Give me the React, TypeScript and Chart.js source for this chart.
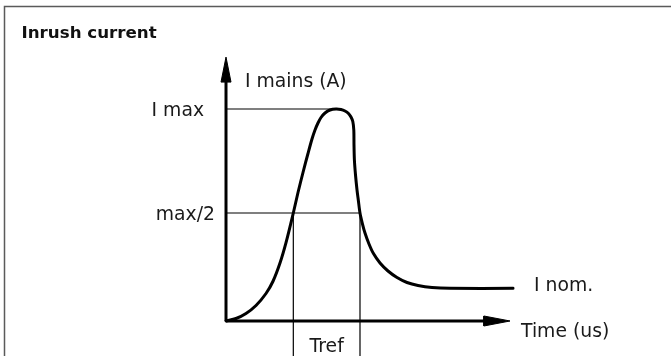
import React, { useEffect, useRef } from "react";
import { Chart, registerables } from "chart.js";

Chart.register(...registerables);

// ---- data (time in arbitrary units, current in % of I max) ----
const curveTime = [
  0, 3.52, 7.04, 10.56, 14.08, 16.55, 19.01, 21.13, 23.7,
  25.35, 27.11, 28.87, 30.28, 31.34, 32.39, 33.45, 34.86, 36.62, 38.73,
  40.49, 41.9, 43.13, 44.01, 44.65, 45.0, 45.07, 45.21, 45.6, 46.13, 46.58, 47.18,
  48.06, 48.94, 50.35, 51.87, 54.23, 57.04, 60.21, 63.73, 67.61, 72.54, 78.87, 101.06,
];
const curveCurrent = [
  0, 1.18, 3.54, 7.31, 12.97, 18.75, 27.33, 36.96, 50.94,
  60.61, 70.05, 79.01, 85.85, 90.09, 93.4, 95.99, 98.11, 99.53, 100,
  99.76, 99.06, 97.88, 96.23, 94.1, 90.09, 83.02, 75.94, 68.87, 61.79, 57.08, 50.94,
  45.75, 41.51, 36.32, 31.93, 27.36, 23.58, 20.52, 18.16, 16.75, 15.8, 15.42, 15.42,
];

const iMax = 100;
const iHalf = 50.94;
const iNom = 15.42;
const tPeak = 39.0;
const tRise = 23.7;
const tFall = 47.18;
const timeAxisEnd = 100;
const currentAxisEnd = 124.5;

const xMin = -79.58;
const xMax = 156.69;
const yMin = -16.51;
const yMax = 151.42;

const titleText = "Inrush current";
const labelTexts = ["I mains (A)", "I max", "max/2", "Tref", "I nom.", "Time (us)"];

export default function App() {
  const ref = useRef<HTMLCanvasElement | null>(null);

  useEffect(() => {
    const canvas = ref.current;
    if (!canvas) return;

    const black = "#000000";
    const thin = 1.2;
    const thick = 3;

    const line = (pts: { x: number; y: number }[], width: number, extra: any = {}) => ({
      data: pts,
      showLine: true,
      borderColor: black,
      backgroundColor: black,
      borderWidth: width,
      pointRadius: 0,
      pointHoverRadius: 0,
      tension: 0,
      ...extra,
    });

    const curve = curveTime.map((t, i) => ({ x: t, y: curveCurrent[i] }));

    const yHeadLen = 11.8;
    const yHeadHalf = 1.76;
    const xHeadLen = 9.2;
    const xHeadHalf = 2.36;

    const datasets: any[] = [
      // guide lines
      line([{ x: 0, y: iMax }, { x: tPeak, y: iMax }], thin),
      line([{ x: 0, y: iHalf }, { x: tFall, y: iHalf }], thin),
      line([{ x: tRise, y: iHalf }, { x: tRise, y: yMin }], thin),
      line([{ x: tFall, y: iHalf }, { x: tFall, y: yMin }], thin),
      // axes
      line([{ x: 0, y: 0 }, { x: 0, y: currentAxisEnd - yHeadLen + 1 }], thick),
      line([{ x: 0, y: 0 }, { x: timeAxisEnd - xHeadLen + 1, y: 0 }], thick),
      // arrowheads
      line(
        [
          { x: 0, y: currentAxisEnd },
          { x: -yHeadHalf, y: currentAxisEnd - yHeadLen },
          { x: yHeadHalf, y: currentAxisEnd - yHeadLen },
          { x: 0, y: currentAxisEnd },
        ],
        1,
        { fill: "shape" }
      ),
      line(
        [
          { x: timeAxisEnd, y: 0 },
          { x: timeAxisEnd - xHeadLen, y: xHeadHalf },
          { x: timeAxisEnd - xHeadLen, y: -xHeadHalf },
          { x: timeAxisEnd, y: 0 },
        ],
        1,
        { fill: "shape" }
      ),
      // inrush curve
      line(curve, thick, { tension: 0.3, borderJoinStyle: "round", borderCapStyle: "round" }),
    ];

    // label anchors in data coordinates, with pixel nudges
    const labels = [
      { text: labelTexts[0], x: 0, y: currentAxisEnd, dx: 19, dy: 30, align: "left" },
      { text: labelTexts[1], x: 0, y: iMax, dx: -22, dy: 6.5, align: "right" },
      { text: labelTexts[2], x: 0, y: iHalf, dx: -11, dy: 7, align: "right" },
      { text: labelTexts[3], x: (tRise + tFall) / 2, y: 0, dx: 0, dy: 31, align: "center" },
      { text: labelTexts[4], x: curveTime[curveTime.length - 1], y: iNom, dx: 21, dy: 3, align: "left" },
      { text: labelTexts[5], x: timeAxisEnd, y: 0, dx: 11, dy: 16, align: "left" },
    ];

    const decor = {
      id: "decor",
      afterDatasetsDraw(chart: any) {
        const ctx = chart.ctx;
        const xs = chart.scales.x;
        const ys = chart.scales.y;
        ctx.save();
        // frame
        ctx.strokeStyle = "#5a5a5a";
        ctx.lineWidth = 1.5;
        ctx.beginPath();
        ctx.moveTo(4.5, 356);
        ctx.lineTo(4.5, 6.5);
        ctx.lineTo(671, 6.5);
        ctx.stroke();
        // title
        ctx.fillStyle = "#111111";
        ctx.font = "bold 16.7px 'DejaVu Sans'";
        ctx.textAlign = "left";
        ctx.textBaseline = "alphabetic";
        ctx.fillText(titleText, 21.5, 38.3);
        // labels
        ctx.font = "18.8px 'DejaVu Sans'";
        ctx.fillStyle = "#1a1a1a";
        for (const l of labels) {
          ctx.textAlign = l.align;
          ctx.fillText(l.text, xs.getPixelForValue(l.x) + l.dx, ys.getPixelForValue(l.y) + l.dy);
        }
        ctx.restore();
      },
    };

    const chart = new Chart(canvas, {
      type: "scatter",
      data: { datasets },
      options: {
        animation: false,
        responsive: false,
        events: [],
        layout: { padding: 0 },
        plugins: { legend: { display: false }, tooltip: { enabled: false }, title: { display: false } },
        scales: {
          x: { type: "linear", display: false, min: xMin, max: xMax },
          y: { type: "linear", display: false, min: yMin, max: yMax },
        },
      },
      plugins: [decor],
    } as any);

    return () => chart.destroy();
  }, []);

  return (
    <div style={{ position: "absolute", left: 0, top: 0, width: 671, height: 356, background: "#ffffff" }}>
      <canvas ref={ref} width={671} height={356} style={{ display: "block" }} />
    </div>
  );
}
